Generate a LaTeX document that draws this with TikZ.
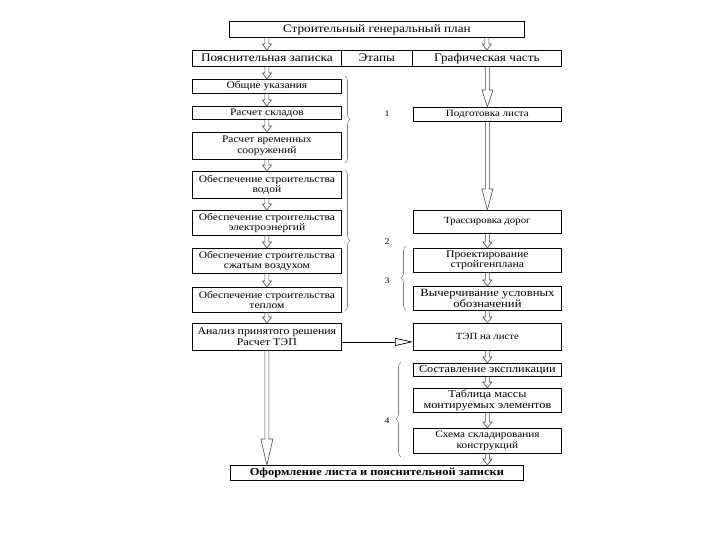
\documentclass[tikz,border=0pt]{standalone}
\usepackage{fontspec}
\setmainfont[FakeStretch=1.15]{Liberation Serif}
\usetikzlibrary{calc,arrows.meta,decorations.pathreplacing}
\newcommand{\fs}[1]{\fontsize{#1}{10.6}\selectfont}
\tikzset{
  bx/.style={draw=black, line width=0.8pt, inner sep=0pt, align=center, anchor=north west},
  hdr/.style={bx, minimum height=16pt, text height=8pt, text depth=2.5pt, font=\fontsize{11.5}{12}\selectfont},
  lbox/.style={bx, minimum width=149pt, font=\fs{10}},
  rbox/.style={bx, minimum width=148pt, font=\fs{9.6}},
  harr/.style={draw=black!70, line width=0.6pt, fill=white},
  brc/.style={draw=black!50, line width=0.6pt, decorate, decoration={brace, amplitude=5pt}},
  num/.style={font=\fontsize{8.5}{9}\selectfont},
}
\newcommand{\harrow}[4][4.5pt]{%
  \draw[harr] let \p1=(#2), \p2=(#3) in
    (\x2-2pt,\y1) -- (\x2-2pt,\y2+#4) -- (\x2-#1,\y2+#4) -- (\x2,\y2)
    -- (\x2+#1,\y2+#4) -- (\x2+2pt,\y2+#4) -- (\x2+2pt,\y1);}
\begin{document}
\begin{tikzpicture}[x=1pt,y=-1pt]
\useasboundingbox (0,0) rectangle (720,540);
% title
\node[hdr, minimum width=295pt] (title) at (229,21) {Строительный генеральный план};
% header row
\node[hdr, minimum width=149pt] (hL) at (192,50) {Пояснительная записка};
\node[hdr, minimum width=71pt] (hM) at (341,50) {Этапы};
\node[hdr, minimum width=149pt] (hR) at (412,50) {Графическая часть};
% left column
\node[lbox, minimum height=14pt] (l1) at (192,79) {Общие указания};
\node[lbox, minimum height=13pt] (l2) at (192,106) {Расчет складов};
\node[lbox, minimum height=27pt] (l3) at (192,132) {Расчет временных\\сооружений};
\node[lbox, minimum height=27pt] (l4) at (192,171) {Обеспечение строительства\\водой};
\node[lbox, minimum height=25pt] (l5) at (192,210) {Обеспечение строительства\\электроэнергий};
\node[lbox, minimum height=25pt] (l6) at (192,248) {Обеспечение строительства\\сжатым воздухом};
\node[lbox, minimum height=25pt] (l7) at (192,287) {Обеспечение строительства\\теплом};
\node[lbox, minimum height=27pt, font=\fs{10.3}] (l8) at (192,323) {Анализ принятого решения\\Расчет ТЭП};
% right column
\node[rbox, minimum height=14pt, font=\fs{9.6}] (r1) at (413,107) {Подготовка листа};
\node[rbox, minimum height=23pt, font=\fs{9.4}] (r2) at (413,210) {Трассировка дорог};
\node[rbox, minimum height=24pt, font=\fs{10.2}] (r3) at (413,248) {Проектирование\\стройгенплана};
\node[rbox, minimum height=24pt, font=\fs{11}] (r4) at (413,286) {Вычерчивание условных\\обозначений};
\node[rbox, minimum height=27pt, font=\fs{9.4}] (r5) at (413,323) {ТЭП на листе};
\node[rbox, minimum height=13pt, font=\fs{10.7}] (r6) at (413,363) {Составление экспликации};
\node[rbox, minimum height=24pt, font=\fs{10.6}] (r7) at (413,388) {Таблица массы\\монтируемых элементов};
\node[rbox, minimum height=25pt, font=\fs{9.8}] (r8) at (413,428) {Схема складирования\\конструкций};
% bottom
\node[bx, minimum width=293pt, minimum height=15pt, font=\bfseries\fontsize{10.8}{12}\selectfont] (bot) at (230,465) {Оформление листа и пояснительной записки};
% stage numbers
\node[num] (n1) at (387,114) {1};
\node[num] (n2) at (387,242) {2};
\node[num] (n3) at (387,281) {3};
\node[num] (n4) at (387,421) {4};
% braces
\coordinate (b1a) at (345,76); \coordinate (b1b) at (345,163);
\coordinate (b2a) at (345,170); \coordinate (b2b) at (345,311);
\coordinate (b3a) at (406,310); \coordinate (b3b) at (406,246);
\coordinate (b4a) at (401,457); \coordinate (b4b) at (401,362);
\draw[brc] (b1a) -- (b1b);
\draw[brc] (b2a) -- (b2b);
\draw[brc] (b3a) -- (b3b);
\draw[brc, decoration={aspect=0.4}] (b4a) -- (b4b);
% left arrows
\harrow{title.south}{hL.north}{6pt}
\harrow{hL.south}{l1.north}{6pt}
\harrow{l1.south}{l2.north}{6pt}
\harrow{l2.south}{l3.north}{6pt}
\harrow{l3.south}{l4.north}{6pt}
\harrow{l4.south}{l5.north}{6pt}
\harrow{l5.south}{l6.north}{6pt}
\harrow{l6.south}{l7.north}{6pt}
\harrow{l7.south}{l8.north}{6pt}
\harrow[6pt]{l8.south}{bot.north -| l8.south}{26pt}
% right arrows
\harrow{title.south -| hR.north}{hR.north}{6pt}
\harrow[5.5pt]{hR.south}{r1.north}{17pt}
\harrow[5.5pt]{r1.south}{r2.north}{21pt}
\harrow{r2.south}{r3.north}{6pt}
\harrow{r3.south}{r4.north}{6pt}
\harrow{r4.south}{r5.north}{6pt}
\harrow{r5.south}{r6.north}{6pt}
\harrow{r6.south}{r7.north}{6pt}
\harrow{r7.south}{r8.north}{6pt}
\harrow{r8.south}{bot.north -| r8.south}{6pt}
% horizontal arrow
\draw[line width=0.7pt, -{Triangle[open, length=18pt, width=8pt]}] ([yshift=-5pt]l8.east) -- ([yshift=-5pt]r5.west);
\end{tikzpicture}
\end{document}
